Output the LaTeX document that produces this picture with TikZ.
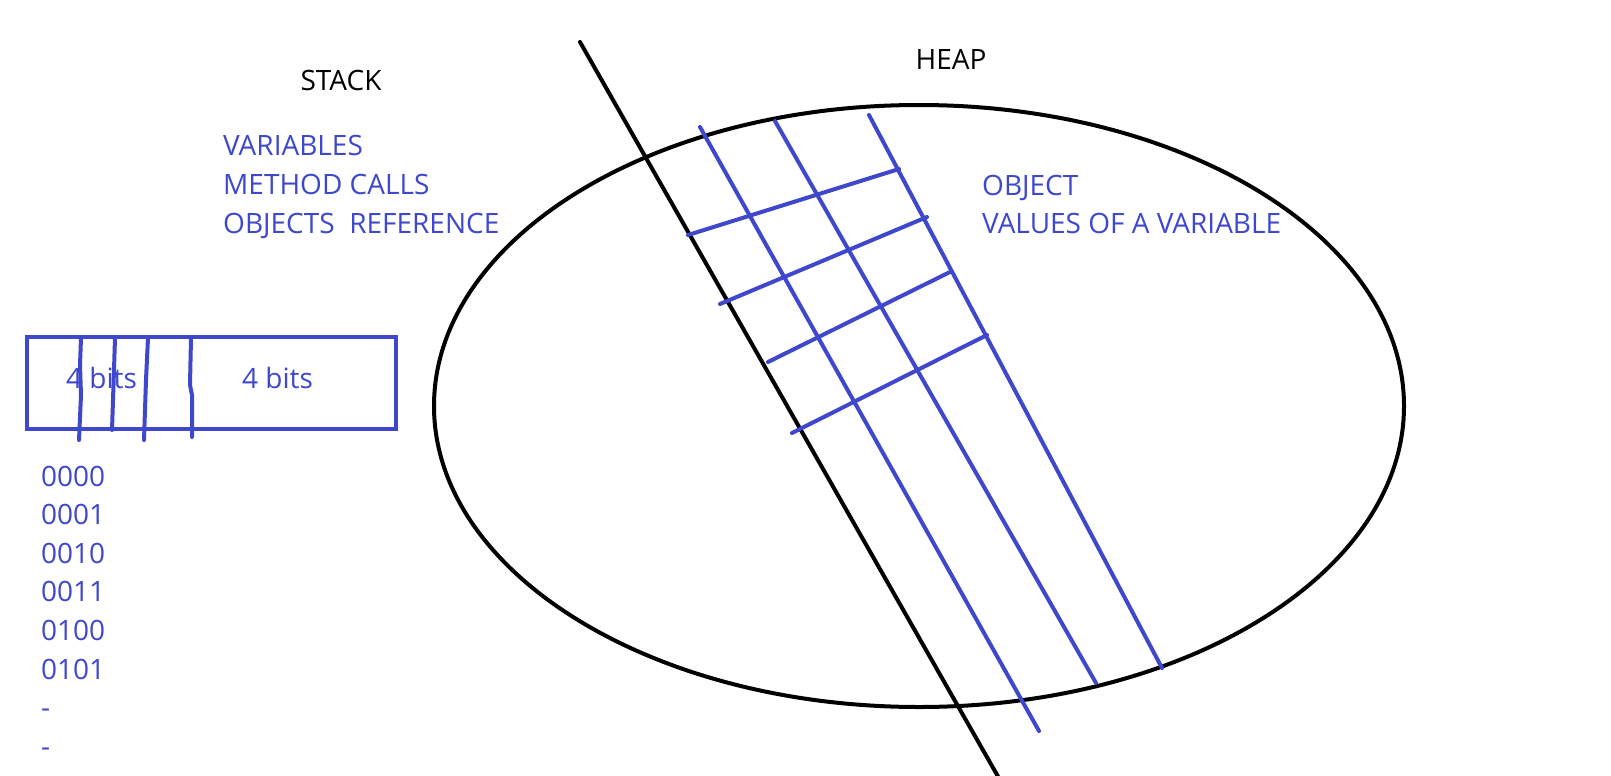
\documentclass[tikz,border=0pt]{standalone}
\usepackage{fontspec}
\setmainfont{Open Sans}
\usepackage{xcolor}
\usetikzlibrary{positioning}
\definecolor{paintblue}{RGB}{63,72,204}

\begin{document}
\begin{tikzpicture}[x=1pt, y=-1pt, line cap=round, line join=round,
    txt/.style={inner sep=0pt, anchor=base west, font=\fontsize{28}{34}\selectfont},
    bluetxt/.style={txt, text=paintblue},
    heapline/.style={draw=paintblue, line width=4pt},
    divline/.style={draw=black, line width=4pt}]
  \useasboundingbox[fill=white] (0,0) rectangle (1611,776);

  \node[txt, anchor=base] (stack) at (341,90) {STACK};
  \node[txt, anchor=base] (heap) at (951,70) {HEAP};

  \node[bluetxt] (vars) at (223,155) {VARIABLES};
  \node[bluetxt] (calls) at (223,194) {METHOD CALLS};
  \node[bluetxt] (refs) at (223,233) {OBJECTS\ \ REFERENCE};

  \node[bluetxt] (object) at (982,195) {OBJECT};
  \node[bluetxt] (values) at (982,233) {VALUES OF A VARIABLE};

  \draw[divline] (919,406) ellipse [x radius=485pt, y radius=301pt];
  \coordinate (divtop) at (580,42);
  \coordinate (divbot) at (1000,780);
  \draw[divline] (divtop) -- (divbot);

  \draw[heapline] (700,127) -- (1039,731);
  \draw[heapline] (775,121) -- (1096,683);
  \draw[heapline] (869,115) -- (1162,668);
  \draw[heapline] (688,235) -- (899,169);
  \draw[heapline] (720,304) -- (927,217);
  \draw[heapline] (768,362) -- (950,272);
  \draw[heapline] (792,433) -- (987,335);

  \draw[draw=paintblue, line width=4.3pt, line cap=butt, line join=miter] (27,337) rectangle (396,429);
  \draw[heapline] (81,338) -- (80,365) -- (81,395) -- (79,440);
  \draw[heapline] (115,338) -- (114,370) -- (113,400) -- (112,430);
  \draw[heapline] (148,338) -- (146,380) -- (145,410) -- (144,440);
  \draw[heapline] (191,338) -- (190,385) -- (192,395) -- (192,437);

  \node[bluetxt] (bitsA) at (66,388) {4 bits};
  \node[bluetxt] (bitsB) at (242,388) {4 bits};

  \foreach \bits [count=\i from 0] in {0000,0001,0010,0011,0100,0101,-,-}
    \node[bluetxt] (row\i) at (41,486+38.6*\i) {\bits};
\end{tikzpicture}
\end{document}
